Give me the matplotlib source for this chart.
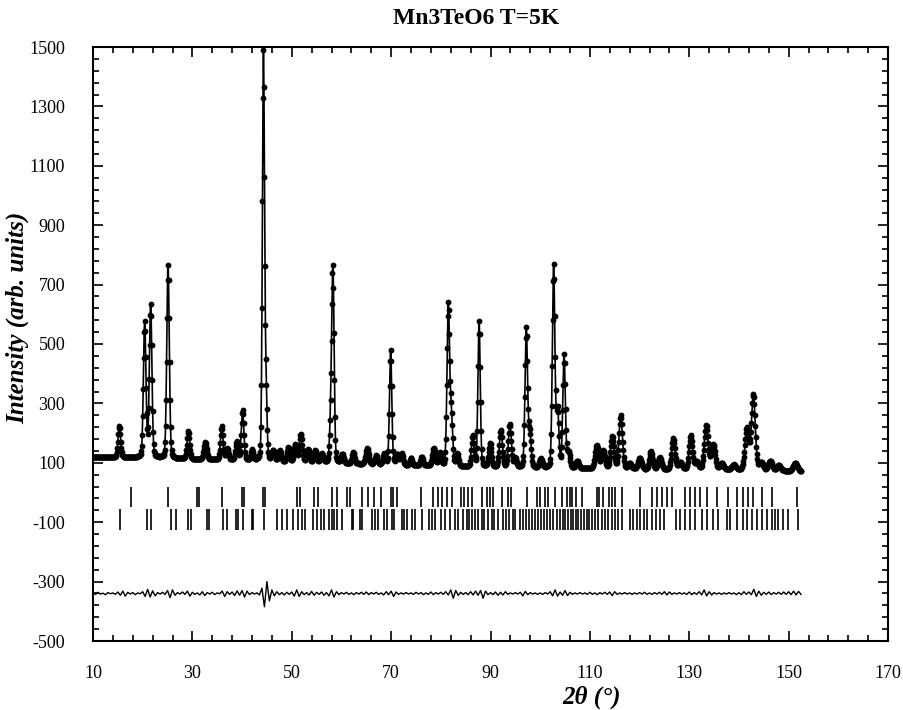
import numpy as np
import matplotlib
matplotlib.use("Agg")
import matplotlib.pyplot as plt
from matplotlib.ticker import MultipleLocator

plt.rcParams['font.family'] = ['Liberation Serif', 'DejaVu Serif']
plt.rcParams['axes.unicode_minus'] = False

# background knots (2theta, intensity)
bg_x = [10, 20, 30, 45, 60, 80, 100, 120, 140, 152.5]
bg_y = [120, 117, 112, 105, 98, 88, 82, 78, 75, 72]

# reflections: position, height above background, fwhm
peak_pos = [15.3, 20.4, 21.6, 25.1, 29.2, 32.6, 35.9, 37.0, 38.9, 40.1,
            42.0, 44.3, 44.8, 46.3, 47.6, 49.3, 50.7, 51.8, 53.3, 54.7,
            56.0, 57.9, 58.3, 60.2, 62.4, 65.2, 67.0, 68.6, 69.9, 71.2,
            72.1, 74.0, 76.2, 78.6, 79.8, 81.5, 82.1, 83.3, 86.4, 87.7,
            89.9, 92.1, 93.9, 95.0, 97.2, 97.9, 100.1, 102.7, 103.5, 104.8,
            105.7, 107.5, 111.4, 112.7, 114.5, 116.2, 118.0, 120.0, 122.3, 124.1,
            126.8, 128.2, 130.3, 131.5, 133.4, 134.8, 136.5, 139.0, 141.6, 142.9,
            144.5, 146.3, 148.0, 151.3]
peak_height = [105, 455, 515, 650, 95, 58, 112, 40, 62, 170,
               35, 1365, 230, 35, 38, 50, 60, 95, 45, 42,
               30, 150, 620, 30, 38, 55, 30, 35, 385, 35,
               40, 25, 30, 60, 45, 540, 170, 40, 105, 490,
               80, 125, 145, 30, 470, 110, 30, 680, 190, 380,
               50, 25, 80, 60, 110, 180, 20, 38, 62, 40,
               105, 25, 115, 25, 150, 85, 22, 18, 140, 255,
               25, 32, 18, 28]
peak_fwhm = [0.6, 0.6, 0.6, 0.6, 0.6, 0.7, 0.6, 0.6, 0.6, 0.6,
             0.6, 0.5, 0.5, 0.6, 0.6, 0.6, 0.6, 0.7, 0.6, 0.6,
             0.6, 0.6, 0.55, 0.6, 0.6, 0.7, 0.6, 0.6, 0.55, 0.6,
             0.6, 0.6, 0.6, 0.7, 0.6, 0.6, 0.6, 0.6, 0.6, 0.55,
             0.7, 0.7, 0.7, 0.6, 0.6, 0.6, 0.7, 0.6, 0.6, 0.6,
             0.7, 0.7, 0.8, 0.8, 0.8, 0.8, 0.8, 0.8, 0.8, 0.8,
             0.8, 0.8, 0.8, 0.8, 0.9, 0.9, 0.9, 0.9, 0.9, 0.9,
             0.9, 0.9, 0.9, 0.9]

# Bragg positions, phase 1 (upper row) and phase 2 (lower row)
bragg1 = [17.65, 25.16, 30.87, 31.40, 35.9, 39.92, 40.46, 44.15, 44.69, 51.13,
          51.66, 54.54, 55.21, 58.17, 59.05, 61.06, 61.73, 64.08, 65.42, 66.62,
          67.97, 69.98, 70.45, 71.12, 76.01, 78.49, 79.50, 80.17, 81.18, 82.19,
          84.06, 84.73, 85.41, 86.21, 88.23, 89.23, 89.90, 90.57, 92.25, 93.59,
          94.13, 97.29, 99.30, 99.96, 100.97, 101.64, 102.98, 104.33, 105.34, 106.0,
          106.34, 107.21, 108.35, 111.37, 111.90, 112.58, 113.92, 114.39, 115.06, 116.40,
          120.09, 122.44, 123.45, 124.45, 125.46, 126.46, 129.15, 130.15, 131.16, 132.17,
          133.51, 135.52, 137.87, 139.55, 140.89, 141.89, 142.90, 144.58, 146.59, 151.62]
bragg2 = [15.43, 20.80, 21.61, 25.63, 26.70, 29.19, 29.72, 32.88, 33.41, 36.23,
          36.90, 38.78, 39.25, 40.25, 41.94, 42.27, 44.48, 46.97, 47.98, 49.11,
          50.32, 51.32, 52.00, 52.67, 54.34, 55.02, 55.82, 56.49, 57.56, 58.04,
          58.57, 59.04, 60.05, 62.06, 62.39, 63.74, 64.07, 66.09, 66.76, 67.29,
          68.63, 69.10, 70.24, 70.65, 72.12, 72.66, 73.13, 74.14, 74.81, 76.28,
          77.69, 78.16, 78.83, 80.04, 80.84, 81.85, 82.86, 83.53, 84.40, 85.21,
          85.74, 86.35, 86.88, 87.42, 88.22, 88.76, 89.57, 90.24, 90.77, 91.58,
          92.45, 93.05, 93.79, 94.60, 94.93, 95.94, 96.48, 97.08, 97.75, 98.29,
          98.96, 99.63, 100.17, 100.84, 101.44, 101.98, 102.65, 103.32, 103.99, 104.53,
          104.99, 105.67, 106.20, 106.67, 107.21, 107.68, 108.21, 108.82, 109.36, 109.89,
          110.36, 111.03, 111.70, 112.37, 113.04, 113.72, 114.39, 115.06, 115.73, 116.40,
          118.08, 118.75, 119.42, 120.09, 120.89, 121.57, 122.44, 123.31, 124.11, 124.92,
          127.34, 128.14, 129.15, 130.15, 131.16, 132.50, 133.51, 134.85, 135.86, 137.53,
          138.20, 139.55, 140.89, 141.56, 142.57, 143.57, 144.58, 145.59, 146.59, 147.26,
          147.94, 148.94, 149.95, 151.96]

# difference (obs - calc), every 0.5 deg from 10 to 152.5
diff_vals = [2, -3, 4, -2, 1, -4, 3, -1, 2, -3, 5, -6, 8, -9, 4, -2, 3, -4, 2, -1,
             6, -10, 14, -12, 9, -8, 3, -2, 4, -3, 10, -14, 12, -6, 3, -2, 5, -3, 8, -9,
             4, -3, 2, -5, 6, -7, 3, -2, 4, -4, 2, -1, 8, -10, 6, -3, 5, -7, 9, -6,
             10, -12, 8, -4, 3, -2, 2, -5, 18, -45, 40, -25, 12, -8, 6, -4, 3, -5, 4, -3,
             5, -9, 12, -10, 6, -4, 3, -5, 7, -6, 4, -3, 5, -6, 3, -8, 12, -12, 6, -4,
             3, -2, 4, -3, 2, -4, 3, -2, 4, -3, 5, -4, 3, -2, 4, -3, 2, -5, 6, -4,
             8, -10, 5, -3, 2, -2, 3, -2, 2, -3, 4, -2, 3, -4, 2, -3, 5, -4, 3, -2,
             4, -3, 6, -5, 12, -16, 10, -6, 4, -3, 3, -4, 6, -5, 8, -6, 10, -16, 8, -4,
             3, -4, 5, -6, 4, -5, 6, -3, 2, -2, 3, -2, 4, -8, 7, -4, 3, -2, 2, -3,
             2, -3, 3, -2, 6, -8, 12, -9, 5, -6, 10, -7, 4, -3, 2, -2, 3, -2, 2, -3,
             4, -3, 2, -4, 3, -2, 4, -3, 5, -7, 6, -3, 2, -2, 3, -2, 2, -3, 2, -2,
             3, -2, 4, -3, 2, -3, 3, -2, 4, -3, 6, -5, 5, -3, 2, -2, 3, -2, 2, -3,
             5, -4, 3, -3, 6, -5, 12, -8, 6, -5, 3, -2, 2, -3, 2, -2, 3, -2, 2, -4,
             3, -4, 6, -3, 5, -4, 14, -10, 8, -6, 4, -3, 5, -4, 3, -2, 4, -3, 5, -3,
             6, -4, 8, -5, 7, -3]
diff_offset = -340

assert len(peak_pos) == len(peak_height) == len(peak_fwhm)

twotheta = np.arange(10.0, 152.55, 0.05)
calc = np.interp(twotheta, bg_x, bg_y)
for p, h, w in zip(peak_pos, peak_height, peak_fwhm):
    g = np.exp(-4 * np.log(2) * ((twotheta - p) / w) ** 2)
    lor = 1.0 / (1.0 + 4 * ((twotheta - p) / w) ** 2)
    calc += h * (0.85 * g + 0.15 * lor)

diff_x = 10.0 + 0.5 * np.arange(len(diff_vals))
diff_y = diff_offset + np.array(diff_vals)

fig = plt.figure(figsize=(9.04, 7.10), dpi=100)
ax = fig.add_axes([93 / 904, 1 - 641 / 710, 795 / 904, 594 / 710])

ax.plot(twotheta, calc, color='black', lw=1.2)
ax.plot(twotheta[::2], calc[::2], 'o', color='black', ms=4.2, mew=0)
ax.vlines(bragg1, -50, 20, colors='black', lw=1.2)
ax.vlines(bragg2, -125, -55, colors='black', lw=1.2)
ax.plot(diff_x, diff_y, color='black', lw=1.0)

ax.set_xlim(10, 170)
ax.set_ylim(-500, 1500)
ax.xaxis.set_major_locator(MultipleLocator(20, offset=10))
ax.xaxis.set_minor_locator(MultipleLocator(4, offset=2))
ax.yaxis.set_major_locator(MultipleLocator(200, offset=100))
ax.yaxis.set_minor_locator(MultipleLocator(40, offset=20))
ax.tick_params(which='both', direction='in', top=True, right=True, width=1.2)
ax.tick_params(which='major', length=7, labelsize=13)
ax.tick_params(which='minor', length=4)
ax.tick_params(axis='x', which='major', pad=17)
ax.tick_params(axis='y', which='major', pad=20)
for s in ax.spines.values():
    s.set_linewidth(1.5)

fig.text(476 / 904, 1 - 18 / 710, "Mn3TeO6 T=5K", fontsize=17, fontweight='bold',
         ha='center', va='center')
fig.text(18 / 904, 1 - 318 / 710, "Intensity (arb. units)", fontsize=18,
         fontweight='bold', fontstyle='italic', rotation=90,
         ha='center', va='center')
fig.text(592 / 904, 1 - 697 / 710, "2θ (°)", fontsize=18, fontweight='bold',
         fontstyle='italic', ha='center', va='center')

fig.savefig("out.png", dpi=100)
